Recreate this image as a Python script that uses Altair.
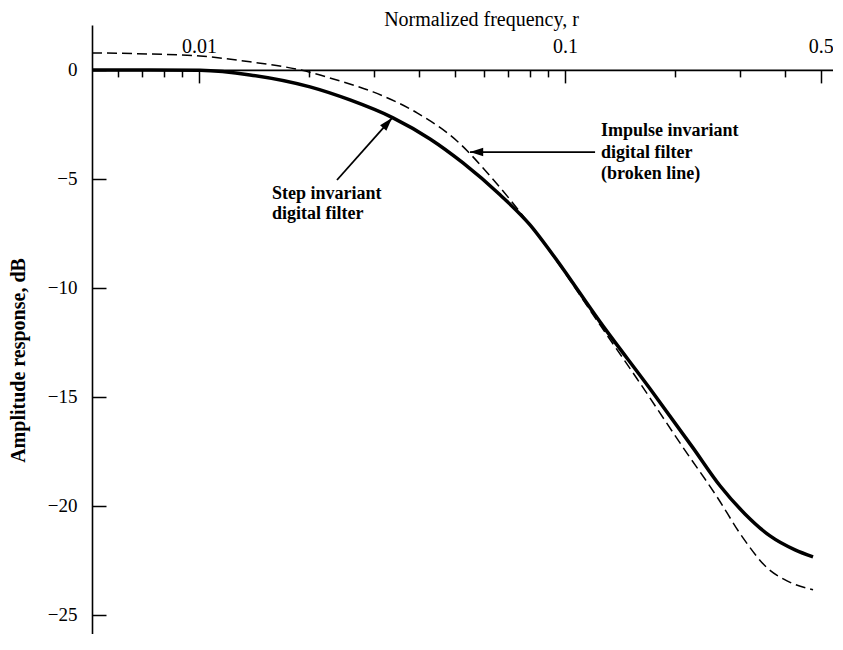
import altair as alt
import pandas as pd

# ---------------- data ----------------
step_r = [0.00510, 0.00735, 0.01006, 0.01378, 0.02010, 0.02585, 0.03388, 0.04277,
          0.05263, 0.06642, 0.08023, 0.09272, 0.1246, 0.1707, 0.2237, 0.2651,
          0.3102, 0.3631, 0.4250, 0.4760]
step_db = [0.0, 0.0, -0.02, -0.23, -0.78, -1.38, -2.20, -3.17,
           -4.27, -5.73, -7.11, -8.49, -11.56, -14.63, -17.34, -19.08,
           -20.37, -21.38, -22.02, -22.34]

imp_r = [0.00510, 0.00735, 0.01006, 0.01378, 0.01888, 0.02428, 0.02988, 0.03941,
         0.05068, 0.06238, 0.07872, 0.09272, 0.1246, 0.1573, 0.2087, 0.2602,
         0.3064, 0.3563, 0.4041, 0.4760]
imp_db = [0.78, 0.73, 0.64, 0.37, 0.0, -0.51, -1.01, -1.97,
          -3.26, -4.86, -6.93, -8.53, -11.70, -14.17, -17.25, -19.59,
          -21.47, -22.84, -23.44, -23.85]

x_label_values = [0.01, 0.1, 0.5]
x_tick_values = [0.006, 0.007, 0.008, 0.009, 0.01,
                 0.02, 0.03, 0.04, 0.05, 0.06, 0.07, 0.08, 0.09, 0.1,
                 0.2, 0.3, 0.4, 0.5]
y_tick_values = [0, -5, -10, -15, -20, -25]

x_title = "Normalized frequency, r"
y_title = "Amplitude response, dB"

impulse_lines = ["Impulse invariant", "digital filter", "(broken line)"]
step_lines = ["Step invariant", "digital filter"]

# ---------------- layout ----------------
FONT = "Liberation Serif"
X_DOMAIN = [0.0051, 0.5397]
Y_DOMAIN = [-25.88, 2.06]
W, H = 741, 609
PAD_L, PAD_T = 84, 17
px_per_db = H / (Y_DOMAIN[1] - Y_DOMAIN[0])
zero_from_top = Y_DOMAIN[1] * px_per_db

xscale = alt.Scale(type="log", domain=X_DOMAIN)
yscale = alt.Scale(domain=Y_DOMAIN)

step_df = pd.DataFrame({"r": step_r, "db": step_db})
imp_df = pd.DataFrame({"r": imp_r, "db": imp_db})

solid = alt.Chart(step_df).mark_line(
    color="black", strokeWidth=3.5, interpolate="monotone"
).encode(
    x=alt.X("r:Q", scale=xscale, axis=alt.Axis(
        orient="top", offset=-zero_from_top, values=x_label_values, format=".2~f",
        ticks=False, tickSize=0, domain=True, domainColor="black", domainWidth=1.6,
        grid=False, labelFont=FONT, labelFontSize=20, labelColor="black",
        labelPadding=17, labelBaseline="alphabetic", labelFlush=False,
        title=x_title, titleFont=FONT, titleFontSize=20, titleFontWeight="normal",
        titleColor="black", titleX=389, titleY=-44.5, titleAlign="center",
        titleBaseline="alphabetic")),
    y=alt.Y("db:Q", scale=yscale, axis=alt.Axis(
        orient="left", values=y_tick_values, ticks=False, tickSize=0,
        domain=True, domainColor="black", domainWidth=1.6, grid=False,
        labelFont=FONT, labelFontSize=19, labelColor="black", labelPadding=15,
        title=y_title, titleFont=FONT, titleFontSize=20, titleFontWeight="bold",
        titleColor="black", titleX=-74, titleY=335, titleAngle=270,
        titleAlign="center", titleBaseline="middle")),
)

major_test = "datum.value == 0.01 || datum.value == 0.1 || datum.value == 0.5"

dashed = alt.Chart(imp_df).mark_line(
    color="black", strokeWidth=1.5, strokeDash=[10, 5], interpolate="monotone"
).encode(
    x=alt.X("r:Q", scale=xscale, axis=alt.Axis(
        orient="bottom", offset=-(H - zero_from_top), values=x_tick_values,
        labels=False, domain=False, grid=False, ticks=True, tickColor="black",
        tickWidth=1.5,
        tickSize={"condition": {"test": major_test, "value": 13}, "value": 7},
        title=None)),
    y=alt.Y("db:Q", scale=yscale, axis=alt.Axis(
        orient="right", offset=-W, values=y_tick_values, labels=False,
        domain=False, grid=False, ticks=True, tickColor="black", tickWidth=1.5,
        tickSize=14, title=None)),
)

# annotation text (positions in data units)
text_df = pd.DataFrame({
    "r": [0.1254, 0.1254, 0.1254, 0.01583, 0.01583],
    "db": [-3.03, -4.04, -5.00, -5.92, -6.84],
    "t": impulse_lines + step_lines,
})
texts = alt.Chart(text_df).mark_text(
    align="left", baseline="alphabetic", font=FONT, fontSize=18,
    fontWeight="bold", color="black"
).encode(
    x=alt.X("r:Q", scale=xscale, axis=None),
    y=alt.Y("db:Q", scale=yscale, axis=None),
    text="t:N",
)

arrow_df = pd.DataFrame({
    "r1": [0.1208, 0.02382], "d1": [-3.77, -5.05],
    "r2": [0.05499, 0.03367], "d2": [-3.77, -2.21],
})
shafts = alt.Chart(arrow_df).mark_rule(color="black", strokeWidth=1.8).encode(
    x=alt.X("r1:Q", scale=xscale, axis=None),
    y=alt.Y("d1:Q", scale=yscale, axis=None),
    x2="r2:Q", y2="d2:Q",
)

ARROW = "M0,0L0.32,1L-0.32,1Z"
head_imp = alt.Chart(arrow_df.iloc[[0]]).mark_point(
    shape=ARROW, size=700, filled=True, color="black", opacity=1, angle=270
).encode(
    x=alt.X("r2:Q", scale=xscale, axis=None),
    y=alt.Y("d2:Q", scale=yscale, axis=None),
)
head_step = alt.Chart(arrow_df.iloc[[1]]).mark_point(
    shape=ARROW, size=700, filled=True, color="black", opacity=1, angle=41.6
).encode(
    x=alt.X("r2:Q", scale=xscale, axis=None),
    y=alt.Y("d2:Q", scale=yscale, axis=None),
)

chart = alt.layer(solid, dashed, texts, shafts, head_imp, head_step).resolve_axis(
    x="independent", y="independent"
).properties(
    width=W, height=H,
    autosize=alt.AutoSizeParams(type="none"),
    padding={"left": PAD_L, "top": PAD_T, "right": 0, "bottom": 0},
    background="white",
).configure_view(stroke=None)

chart.save("out.html", embed_options={"renderer": "svg", "actions": False})
